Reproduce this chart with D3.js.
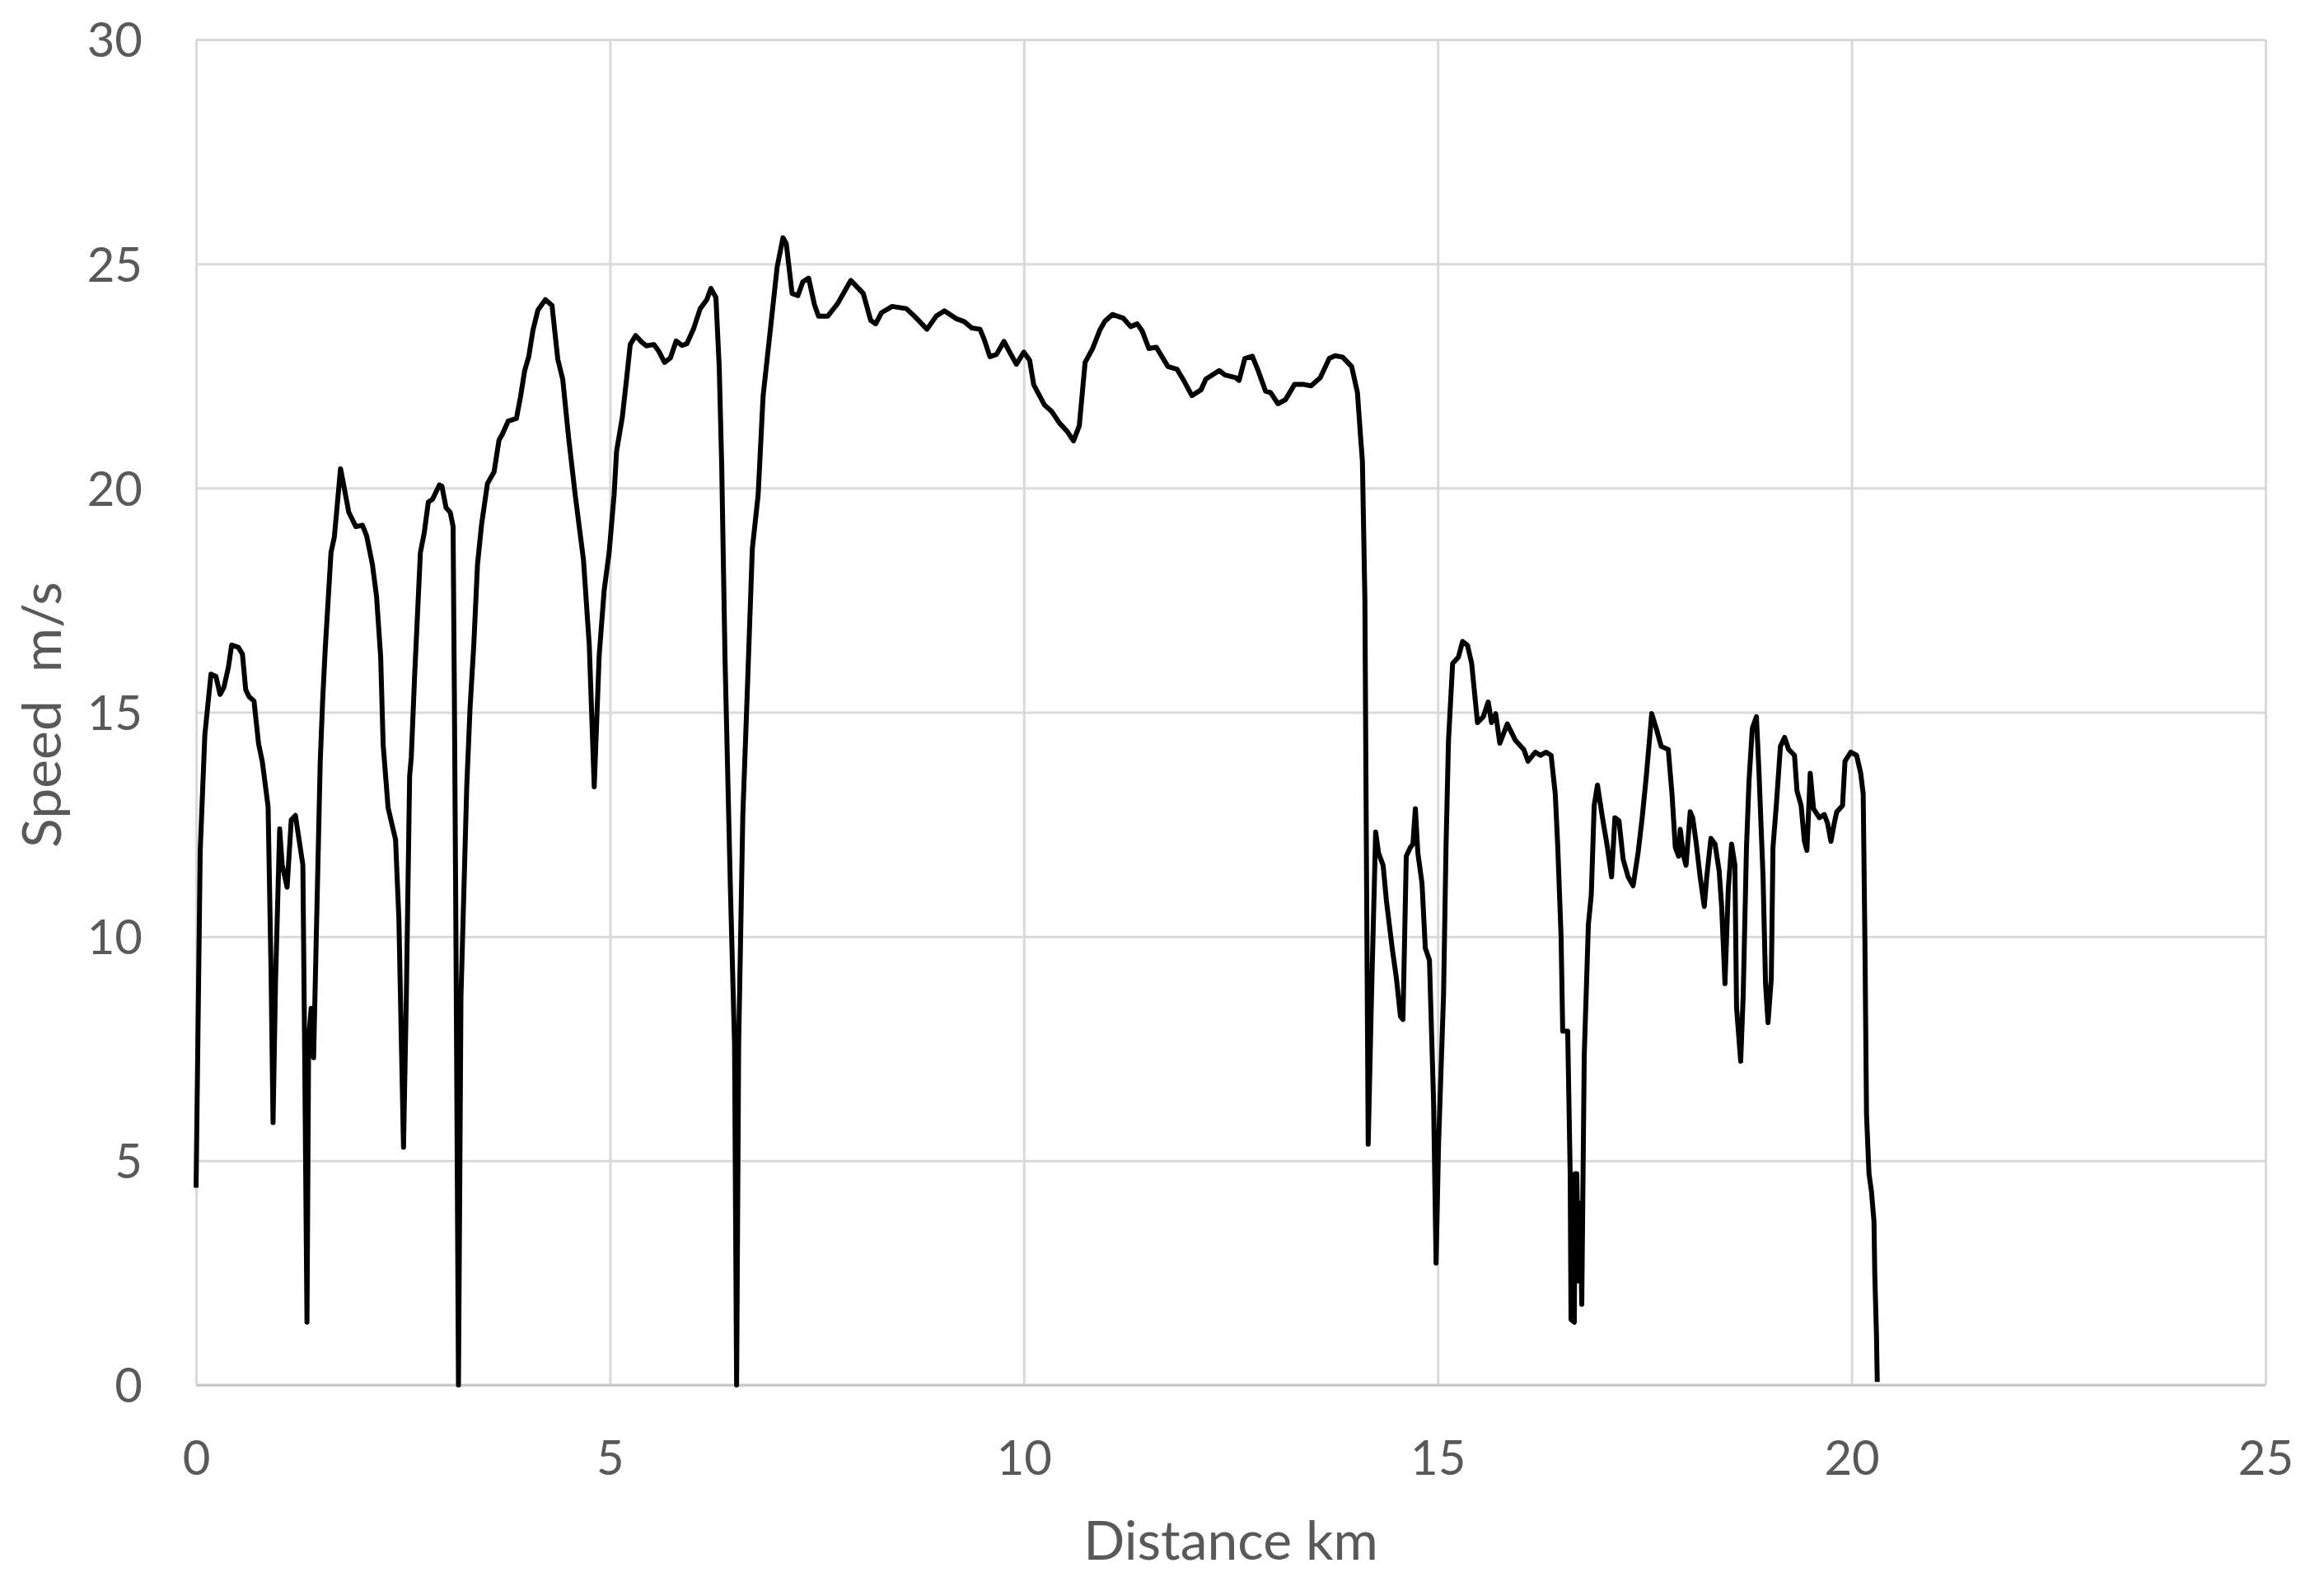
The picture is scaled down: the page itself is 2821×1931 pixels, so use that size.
<!DOCTYPE html>
<html>
<head>
<meta charset="utf-8">
<script src="https://cdn.jsdelivr.net/npm/d3@7"></script>
<style>
  html, body { margin: 0; padding: 0; background: #ffffff; }
  svg { display: block; }
</style>
</head>
<body>
<script>
// ---------- data ----------
const distanceKm = [
  0.00,0.05,0.106,0.18,0.24,0.29,0.335,0.39,0.43,0.51,0.56,0.60,0.64,0.70,0.755,0.80,0.87,0.906,0.93,0.96,
  1.01,1.04,1.10,1.15,1.20,1.29,1.31,1.34,1.36,1.39,1.42,1.45,1.50,1.53,1.56,1.63,1.67,1.745,1.78,1.845,
  1.93,2.01,2.06,2.13,2.18,2.23,2.26,2.32,2.41,2.45,2.506,2.54,2.58,2.60,2.64,2.71,2.757,2.806,2.856,2.94,
  2.97,3.02,3.07,3.105,3.12,3.14,3.17,3.20,3.27,3.31,3.355,3.40,3.45,3.52,3.60,3.66,3.70,3.77,3.87,3.92,
  3.97,4.02,4.07,4.13,4.22,4.30,4.37,4.43,4.50,4.58,4.68,4.75,4.81,4.87,4.93,4.99,5.05,5.08,5.15,5.20,
  5.245,5.31,5.38,5.44,5.53,5.59,5.66,5.73,5.80,5.87,5.93,6.01,6.09,6.17,6.22,6.28,6.32,6.35,6.39,6.456,
  6.505,6.53,6.555,6.605,6.655,6.72,6.79,6.85,6.95,7.02,7.09,7.13,7.20,7.27,7.33,7.40,7.47,7.52,7.63,7.75,
  7.91,8.06,8.15,8.21,8.28,8.41,8.58,8.68,8.83,8.94,9.04,9.18,9.28,9.37,9.47,9.52,9.59,9.67,9.76,9.82,
  9.91,10.0,10.07,10.12,10.25,10.34,10.43,10.52,10.60,10.67,10.74,10.83,10.92,10.98,11.07,11.20,11.29,11.37,11.43,11.51,
  11.60,11.74,11.85,11.94,12.03,12.14,12.20,12.36,12.43,12.56,12.60,12.67,12.76,12.83,12.92,12.98,13.07,13.16,13.27,13.38,
  13.47,13.58,13.69,13.76,13.85,13.96,14.03,14.07,14.09,14.12,14.14,14.16,14.20,14.25,14.285,14.34,14.38,14.45,14.50,14.55,
  14.58,14.62,14.67,14.70,14.73,14.76,14.81,14.85,14.90,14.95,14.98,15.01,15.07,15.10,15.13,15.18,15.25,15.30,15.36,15.41,
  15.48,15.55,15.61,15.65,15.70,15.75,15.79,15.84,15.94,16.04,16.09,16.18,16.24,16.31,16.37,16.42,16.45,16.49,16.51,16.57,
  16.60,16.61,16.65,16.66,16.68,16.70,16.72,16.74,16.77,16.82,16.855,16.89,16.93,16.99,17.05,17.10,17.14,17.19,17.24,17.30,
  17.36,17.42,17.47,17.52,17.585,17.64,17.70,17.785,17.83,17.87,17.91,17.93,17.97,18.00,18.05,18.08,18.12,18.17,18.22,18.25,
  18.30,18.35,18.40,18.43,18.47,18.51,18.55,18.59,18.61,18.66,18.69,18.73,18.76,18.80,18.85,18.88,18.93,18.96,18.99,19.03,
  19.05,19.09,19.14,19.19,19.24,19.31,19.34,19.39,19.43,19.46,19.50,19.54,19.61,19.67,19.71,19.75,19.79,19.82,19.89,19.92,
  19.99,20.06,20.11,20.14,20.16,20.18,20.21,20.24,20.27,20.28,20.30,20.31
];
const speedMs = [
  4.4,11.9,14.5,15.85,15.8,15.4,15.55,16.0,16.5,16.45,16.3,15.5,15.35,15.25,14.3,13.9,12.9,9.2,5.85,9.0,
  12.4,11.6,11.1,12.6,12.7,11.6,7.8,1.4,7.7,8.4,7.3,9.8,13.9,15.3,16.4,18.56,18.9,20.43,20.1,19.46,
  19.14,19.17,18.94,18.3,17.59,16.24,14.28,12.87,12.16,10.4,5.3,8.65,13.58,14.0,15.8,18.56,19.01,19.69,19.75,20.07,
  20.04,19.56,19.46,19.14,15.5,9.83,0.0,8.65,13.34,15.1,16.5,18.3,19.2,20.1,20.36,21.07,21.2,21.49,21.55,22.04,
  22.62,22.94,23.52,23.97,24.2,24.07,22.87,22.42,21.13,19.85,18.4,16.5,13.34,16.27,17.72,18.56,19.85,20.82,21.59,22.42,
  23.2,23.4,23.26,23.17,23.2,23.05,22.8,22.9,23.28,23.18,23.22,23.55,24.0,24.2,24.45,24.25,22.7,20.5,16.2,11.0,
  7.6,0.0,7.6,12.7,15.25,18.65,19.84,22.05,23.74,24.93,25.58,25.45,24.34,24.29,24.6,24.68,24.09,23.83,23.83,24.11,
  24.63,24.34,23.74,23.66,23.91,24.05,24.0,23.83,23.54,23.83,23.95,23.78,23.71,23.57,23.54,23.32,22.93,22.98,23.27,23.06,
  22.76,23.03,22.85,22.3,21.85,21.7,21.45,21.27,21.05,21.39,22.8,23.11,23.53,23.72,23.87,23.79,23.6,23.66,23.5,23.11,
  23.14,22.71,22.65,22.37,22.06,22.19,22.43,22.62,22.52,22.46,22.4,22.89,22.94,22.62,22.16,22.13,21.88,21.97,22.31,22.31,
  22.28,22.46,22.89,22.95,22.92,22.71,22.13,21.09,20.6,17.5,11.33,5.37,8.68,12.33,11.86,11.59,10.8,9.74,9.08,8.22,
  8.15,11.79,11.99,12.06,12.85,11.86,11.19,9.74,9.47,6.3,2.72,5.37,8.68,11.99,14.37,16.09,16.23,16.58,16.49,16.09,
  14.77,14.9,15.23,14.77,14.97,14.31,14.5,14.74,14.37,14.17,13.91,14.11,14.04,14.11,14.04,13.18,12.0,10.0,7.89,7.89,
  4.71,1.46,1.4,4.71,4.71,2.32,4.05,1.8,7.35,10.27,10.93,12.92,13.38,12.65,11.99,11.33,12.65,12.58,11.72,11.33,
  11.13,11.86,12.65,13.58,14.97,14.64,14.24,14.17,13.18,11.99,11.79,12.39,11.79,11.59,12.78,12.65,12.12,11.33,10.67,11.33,
  12.19,12.06,11.46,10.67,8.95,11.06,12.06,11.59,8.41,7.22,8.68,11.99,13.45,14.64,14.9,13.71,11.33,8.95,8.08,9.08,
  11.99,12.92,14.24,14.44,14.17,14.04,13.25,12.92,12.12,11.92,13.64,12.85,12.65,12.72,12.52,12.12,12.52,12.78,12.92,13.91,
  14.11,14.04,13.64,13.18,10.0,6.03,4.71,4.31,3.65,2.46,1.13,0.07
];
const xTickValues = [0, 5, 10, 15, 20, 25];
const yTickValues = [0, 5, 10, 15, 20, 25, 30];
const xTitle = "Distance km";
const yTitle = "Speed\u00a0\u00a0m/s";

// ---------- layout ----------
const W = 2821, H = 1931;
const plot = { left: 238, right: 2750, top: 48, bottom: 1681 };
const textColor = "#595959";
const gridColor = "#d9d9d9";
const fontFamily = "Lato, 'Open Sans', sans-serif";

const svg = d3.select("body").append("svg")
  .attr("width", W).attr("height", H)
  .attr("viewBox", `0 0 ${W} ${H}`);
svg.append("rect").attr("width", W).attr("height", H).attr("fill", "#ffffff");

const x = d3.scaleLinear().domain([0, 25]).range([plot.left, plot.right]);
const y = d3.scaleLinear().domain([0, 30]).range([plot.bottom, plot.top]);

// gridlines (horizontal)
const gy = svg.append("g").attr("transform", `translate(${plot.left},0)`)
  .call(d3.axisLeft(y).tickValues(yTickValues).tickSize(-(plot.right - plot.left)).tickFormat(""));
gy.select(".domain").remove();
gy.selectAll(".tick line").attr("stroke", gridColor).attr("stroke-width", 3);

// gridlines (vertical)
const gx = svg.append("g").attr("transform", `translate(0,${plot.bottom})`)
  .call(d3.axisBottom(x).tickValues(xTickValues).tickSize(-(plot.bottom - plot.top)).tickFormat(""));
gx.select(".domain").remove();
gx.selectAll(".tick line").attr("stroke", gridColor).attr("stroke-width", 3);

// bottom axis line
svg.append("line")
  .attr("x1", x(0)).attr("x2", x(25)).attr("y1", y(0)).attr("y2", y(0))
  .attr("stroke", "#c8c8c8").attr("stroke-width", 3);

// tick labels
const ay = svg.append("g").attr("transform", `translate(${plot.left},0)`)
  .call(d3.axisLeft(y).tickValues(yTickValues).tickSize(0).tickPadding(65).tickFormat(d3.format("d")));
ay.select(".domain").remove();
ay.selectAll("text").attr("fill", textColor).attr("font-family", fontFamily)
  .attr("font-size", 58).attr("dy", "0.36em");

const ax = svg.append("g").attr("transform", `translate(0,${plot.bottom})`)
  .call(d3.axisBottom(x).tickValues(xTickValues).tickSize(0).tickPadding(68).tickFormat(d3.format("d")));
ax.select(".domain").remove();
ax.selectAll("text").attr("fill", textColor).attr("font-family", fontFamily)
  .attr("font-size", 58);

// axis titles
svg.append("text")
  .attr("x", (plot.left + plot.right) / 2).attr("y", 1893)
  .attr("text-anchor", "middle")
  .attr("fill", textColor).attr("font-family", fontFamily).attr("font-size", 66)
  .text(xTitle);

svg.append("text")
  .attr("transform", `translate(74,${(plot.top + plot.bottom) / 2 + 3}) rotate(-90)`)
  .attr("text-anchor", "middle")
  .attr("fill", textColor).attr("font-family", fontFamily).attr("font-size", 66)
  .text(yTitle);

// the line
const series = distanceKm.map((d, i) => ({ d, v: speedMs[i] }));
const line = d3.line().x(p => x(p.d)).y(p => y(p.v)).curve(d3.curveLinear);
svg.append("path")
  .datum(series)
  .attr("d", line)
  .attr("fill", "none")
  .attr("stroke", "#000000")
  .attr("stroke-width", 6)
  .attr("stroke-linejoin", "round")
  .attr("stroke-linecap", "butt");
</script>
</body>
</html>
